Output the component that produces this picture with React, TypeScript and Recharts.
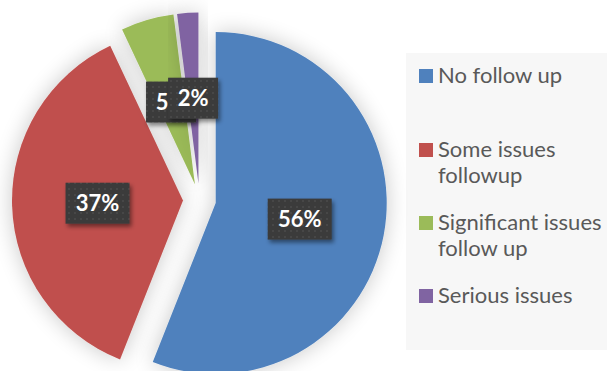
import { PieChart, Pie, Cell } from "recharts";

const categories = [
  "No follow up",
  "Some issues followup",
  "Significant issues follow up",
  "Serious issues",
];
const shares = [56, 37, 5, 2];
const sliceLabels = ["56%", "37%", "5%", "2%"];
const legendLines = [
  ["No follow up"],
  ["Some issues", "followup"],
  ["Significant issues", "follow up"],
  ["Serious issues"],
];
const colors = ["#4F81BD", "#C0504D", "#9BBB59", "#8064A2"];

const data = categories.map((name, i) => ({ name, value: shares[i] }));

const W = 607;
const H = 371;
const CX = 199.5;
const CY = 200;
const R = 171;
const EXPLODE = 16.5;
// top of each legend entry
const legendTops = [61.5, 135.5, 208.5, 281.5];

const total = shares.reduce((a, b) => a + b, 0);
// every slice is pulled out along its own middle angle
const offsets = shares.map((v, i) => {
  const before = shares.slice(0, i).reduce((a, b) => a + b, 0);
  const mid = ((before + v / 2) / total) * 2 * Math.PI;
  return { dx: EXPLODE * Math.sin(mid), dy: -EXPLODE * Math.cos(mid) };
});

const RAD = Math.PI / 180;

const renderLabel = (target: number) => (props: any) => {
  if (props.index !== target) return null;
  const r = props.outerRadius * 0.5;
  const x = props.cx + r * Math.cos(-props.midAngle * RAD);
  const y = props.cy + r * Math.sin(-props.midAngle * RAD);
  const text = sliceLabels[target];
  const w = text.length * 14 + 22;
  const h = 41;
  return (
    <g>
      <rect
        x={x - w / 2}
        y={y - h / 2}
        width={w}
        height={h}
        fill="url(#dots)"
        filter="url(#boxShadow)"
      />
      <text
        x={x}
        y={y + 8}
        textAnchor="middle"
        fill="#ffffff"
        fontSize={22}
        fontWeight={700}
        fontFamily="Lato, 'Open Sans', sans-serif"
      >
        {text}
      </text>
    </g>
  );
};

const App = () => {
  return (
    <div
      style={{
        position: "absolute",
        left: 0,
        top: 0,
        width: W,
        height: H,
        background: "#ffffff",
        overflow: "hidden",
      }}
    >
      {/* legend panel */}
      <div
        style={{
          position: "absolute",
          left: 406,
          top: 53,
          width: 201,
          height: 297,
          background: "#f7f7f7",
        }}
      />

      <PieChart
        width={W}
        height={H}
        margin={{ top: 0, right: 0, bottom: 0, left: 0 }}
        style={{ position: "absolute", left: 0, top: 0 }}
      >
        <defs>
          <filter id="glow" x="-40%" y="-40%" width="180%" height="180%">
            <feGaussianBlur in="SourceAlpha" stdDeviation="11" />
            <feComponentTransfer>
              <feFuncA type="linear" slope="0.22" />
            </feComponentTransfer>
            <feMerge>
              <feMergeNode />
              <feMergeNode in="SourceGraphic" />
            </feMerge>
          </filter>
          <filter id="boxShadow" x="-30%" y="-30%" width="160%" height="170%">
            <feDropShadow dx="2" dy="3" stdDeviation="2" floodColor="#000" floodOpacity="0.45" />
          </filter>
          <pattern id="dots" width="6" height="6" patternUnits="userSpaceOnUse">
            <rect width="6" height="6" fill="#3a3a3a" />
            <rect x="2" y="2" width="2" height="2" fill="#464646" />
          </pattern>
        </defs>

        {offsets.map((o, k) => (
          <Pie
            key={k}
            data={data}
            dataKey="value"
            nameKey="name"
            cx={CX + o.dx}
            cy={CY + o.dy}
            innerRadius={0}
            outerRadius={R}
            startAngle={90}
            endAngle={-270}
            stroke="none"
            labelLine={false}
            label={renderLabel(k)}
            isAnimationActive={false}
          >
            {data.map((_, i) => (
              <Cell
                key={i}
                fill={i === k ? colors[i] : "transparent"}
                filter={i === k ? "url(#glow)" : undefined}
              />
            ))}
          </Pie>
        ))}
      </PieChart>

      {/* legend */}
      {categories.map((name, i) => (
        <div
          key={name}
          style={{
            position: "absolute",
            left: 419,
            top: legendTops[i],
            fontFamily: "Lato, 'Open Sans', sans-serif",
            fontSize: 22,
            lineHeight: "26px",
            color: "#595959",
            whiteSpace: "nowrap",
          }}
        >
          <span
            style={{
              position: "absolute",
              left: 0,
              top: 7.5,
              width: 14,
              height: 14,
              background: colors[i],
            }}
          />
          <div style={{ marginLeft: 19 }}>
            {legendLines[i].map((line) => (
              <div key={line}>{line}</div>
            ))}
          </div>
        </div>
      ))}
    </div>
  );
};

export default App;
